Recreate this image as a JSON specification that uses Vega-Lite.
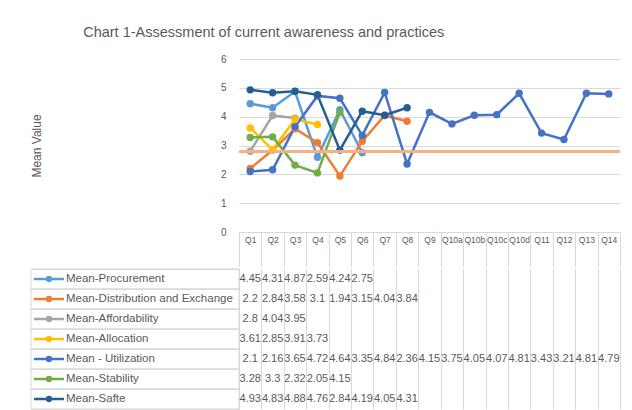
{
  "$schema": "https://vega.github.io/schema/vega-lite/v6.json",
  "background": "white",
  "padding": {"left": 30, "top": 24, "right": 12, "bottom": 2},
  "title": {"text": "Chart 1-Assessment of current awareness and practices", "fontSize": 14.5, "font": "Liberation Sans", "fontWeight": "normal", "color": "#595959", "anchor": "middle", "dx": -62, "offset": 14},
  "datasets": {
    "vals": [
      {"s": "Mean-Procurement", "q": "Q1", "v": 4.45},
      {"s": "Mean-Procurement", "q": "Q2", "v": 4.31},
      {"s": "Mean-Procurement", "q": "Q3", "v": 4.87},
      {"s": "Mean-Procurement", "q": "Q4", "v": 2.59},
      {"s": "Mean-Procurement", "q": "Q5", "v": 4.24},
      {"s": "Mean-Procurement", "q": "Q6", "v": 2.75},
      {"s": "Mean-Distribution and Exchange", "q": "Q1", "v": 2.2},
      {"s": "Mean-Distribution and Exchange", "q": "Q2", "v": 2.84},
      {"s": "Mean-Distribution and Exchange", "q": "Q3", "v": 3.58},
      {"s": "Mean-Distribution and Exchange", "q": "Q4", "v": 3.1},
      {"s": "Mean-Distribution and Exchange", "q": "Q5", "v": 1.94},
      {"s": "Mean-Distribution and Exchange", "q": "Q6", "v": 3.15},
      {"s": "Mean-Distribution and Exchange", "q": "Q7", "v": 4.04},
      {"s": "Mean-Distribution and Exchange", "q": "Q8", "v": 3.84},
      {"s": "Mean-Affordability", "q": "Q1", "v": 2.8},
      {"s": "Mean-Affordability", "q": "Q2", "v": 4.04},
      {"s": "Mean-Affordability", "q": "Q3", "v": 3.95},
      {"s": "Mean-Allocation", "q": "Q1", "v": 3.61},
      {"s": "Mean-Allocation", "q": "Q2", "v": 2.85},
      {"s": "Mean-Allocation", "q": "Q3", "v": 3.91},
      {"s": "Mean-Allocation", "q": "Q4", "v": 3.73},
      {"s": "Mean - Utilization", "q": "Q1", "v": 2.1},
      {"s": "Mean - Utilization", "q": "Q2", "v": 2.16},
      {"s": "Mean - Utilization", "q": "Q3", "v": 3.65},
      {"s": "Mean - Utilization", "q": "Q4", "v": 4.72},
      {"s": "Mean - Utilization", "q": "Q5", "v": 4.64},
      {"s": "Mean - Utilization", "q": "Q6", "v": 3.35},
      {"s": "Mean - Utilization", "q": "Q7", "v": 4.84},
      {"s": "Mean - Utilization", "q": "Q8", "v": 2.36},
      {"s": "Mean - Utilization", "q": "Q9", "v": 4.15},
      {"s": "Mean - Utilization", "q": "Q10a", "v": 3.75},
      {"s": "Mean - Utilization", "q": "Q10b", "v": 4.05},
      {"s": "Mean - Utilization", "q": "Q10c", "v": 4.07},
      {"s": "Mean - Utilization", "q": "Q10d", "v": 4.81},
      {"s": "Mean - Utilization", "q": "Q11", "v": 3.43},
      {"s": "Mean - Utilization", "q": "Q12", "v": 3.21},
      {"s": "Mean - Utilization", "q": "Q13", "v": 4.81},
      {"s": "Mean - Utilization", "q": "Q14", "v": 4.79},
      {"s": "Mean-Stability", "q": "Q1", "v": 3.28},
      {"s": "Mean-Stability", "q": "Q2", "v": 3.3},
      {"s": "Mean-Stability", "q": "Q3", "v": 2.32},
      {"s": "Mean-Stability", "q": "Q4", "v": 2.05},
      {"s": "Mean-Stability", "q": "Q5", "v": 4.15},
      {"s": "Mean-Safte", "q": "Q1", "v": 4.93},
      {"s": "Mean-Safte", "q": "Q2", "v": 4.83},
      {"s": "Mean-Safte", "q": "Q3", "v": 4.88},
      {"s": "Mean-Safte", "q": "Q4", "v": 4.76},
      {"s": "Mean-Safte", "q": "Q5", "v": 2.84},
      {"s": "Mean-Safte", "q": "Q6", "v": 4.19},
      {"s": "Mean-Safte", "q": "Q7", "v": 4.05},
      {"s": "Mean-Safte", "q": "Q8", "v": 4.31}
    ],
    "names": [
      {"s": "Mean-Procurement"},
      {"s": "Mean-Distribution and Exchange"},
      {"s": "Mean-Affordability"},
      {"s": "Mean-Allocation"},
      {"s": "Mean - Utilization"},
      {"s": "Mean-Stability"},
      {"s": "Mean-Safte"}
    ]
  },
  "spacing": 0,
  "vconcat": [
    {
      "width": 381, "height": 173,
      "data": {"name": "vals"},
      "layer": [
        {
          "mark": {"type": "line", "strokeWidth": 2.5},
          "encoding": {
            "x": {"field": "q", "type": "ordinal", "bandPosition": 0.5,
              "scale": {"type": "band", "paddingInner": 0, "paddingOuter": 0, "domain": ["Q1","Q2","Q3","Q4","Q5","Q6","Q7","Q8","Q9","Q10a","Q10b","Q10c","Q10d","Q11","Q12","Q13","Q14"]},
              "axis": {"title": null, "tickBand": "extent", "tickSize": 35, "tickColor": "#d9d9d9", "domain": false, "labelPadding": -32, "labelAngle": 0, "labelFontSize": 8.5, "labelColor": "#595959", "labelOverlap": false, "labelBaseline": "top"}},
            "y": {"field": "v", "type": "quantitative", "scale": {"domain": [0, 6]},
              "axis": {"title": "Mean Value", "values": [0,1,2,3,4,5,6], "tickCount": 7, "grid": true, "gridColor": "#d9d9d9", "domain": false, "ticks": false, "labelPadding": 13, "labelFontSize": 10, "labelColor": "#595959", "labelOverlap": false, "titleColor": "#595959", "titleFontSize": 12, "titleFontWeight": "normal", "titlePadding": 177}},
            "color": {"field": "s", "type": "nominal", "legend": null,
              "scale": {"domain": ["Mean-Procurement","Mean-Distribution and Exchange","Mean-Affordability","Mean-Allocation","Mean - Utilization","Mean-Stability","Mean-Safte"],
                "range": ["#5B9BD5","#ED7D31","#A5A5A5","#FFC000","#4472C4","#70AD47","#255E91"]}}
          }
        },
        {
          "mark": {"type": "point", "filled": true, "size": 55, "opacity": 1},
          "encoding": {
            "x": {"field": "q", "type": "ordinal", "bandPosition": 0.5},
            "y": {"field": "v", "type": "quantitative",
              "axis": {"title": "Mean Value", "values": [0,1,2,3,4,5,6], "tickCount": 7, "grid": true, "gridColor": "#d9d9d9", "domain": false, "ticks": false, "labelPadding": 13, "labelFontSize": 10, "labelColor": "#595959", "labelOverlap": false, "titleColor": "#595959", "titleFontSize": 12, "titleFontWeight": "normal", "titlePadding": 177}},
            "color": {"field": "s", "type": "nominal", "legend": null}
          }
        },
        {
          "mark": {"type": "rule", "color": "#F4B183", "strokeWidth": 2},
          "encoding": {"y": {"datum": 2.8,
              "axis": {"title": "Mean Value", "values": [0,1,2,3,4,5,6], "tickCount": 7, "grid": true, "gridColor": "#d9d9d9", "domain": false, "ticks": false, "labelPadding": 13, "labelFontSize": 10, "labelColor": "#595959", "labelOverlap": false, "titleColor": "#595959", "titleFontSize": 12, "titleFontWeight": "normal", "titlePadding": 177}}}
        }
      ]
    },
    {
      "width": 381, "height": 140,
      "encoding": {
        "y": {"field": "s", "type": "nominal",
          "scale": {"type": "band", "paddingInner": 0, "paddingOuter": 0, "domain": ["Mean-Procurement","Mean-Distribution and Exchange","Mean-Affordability","Mean-Allocation","Mean - Utilization","Mean-Stability","Mean-Safte"]},
          "axis": {"title": null, "labels": false, "ticks": false, "domain": false, "grid": true, "gridColor": "#d9d9d9", "tickBand": "extent"}}
      },
      "layer": [
        {
          "data": {"name": "names"},
          "mark": {"type": "rect", "filled": false, "stroke": "#d9d9d9", "strokeWidth": 1},
          "encoding": {
            "x": {"datum": 0, "type": "quantitative", "scale": {"domain": [0, 208], "range": [-208, 0]}, "axis": null},
            "x2": {"datum": 208}
          }
        },
        {
          "data": {"name": "names"},
          "mark": {"type": "rule", "strokeWidth": 2.5},
          "encoding": {
            "x": {"datum": 3, "type": "quantitative", "scale": {"domain": [0, 208], "range": [-208, 0]}, "axis": null},
            "x2": {"datum": 33},
            "color": {"field": "s", "type": "nominal", "legend": null,
              "scale": {"domain": ["Mean-Procurement","Mean-Distribution and Exchange","Mean-Affordability","Mean-Allocation","Mean - Utilization","Mean-Stability","Mean-Safte"],
                "range": ["#5B9BD5","#ED7D31","#A5A5A5","#FFC000","#4472C4","#70AD47","#255E91"]}}
          }
        },
        {
          "data": {"name": "names"},
          "mark": {"type": "point", "filled": true, "size": 40, "opacity": 1},
          "encoding": {
            "x": {"datum": 18, "type": "quantitative", "scale": {"domain": [0, 208], "range": [-208, 0]}, "axis": null},
            "color": {"field": "s", "type": "nominal", "legend": null}
          }
        },
        {
          "data": {"name": "names"},
          "mark": {"type": "text", "align": "left", "fontSize": 11.5, "color": "#595959"},
          "encoding": {
            "x": {"datum": 35, "type": "quantitative", "scale": {"domain": [0, 208], "range": [-208, 0]}, "axis": null},
            "text": {"field": "s", "type": "nominal"}
          }
        },
        {
          "data": {"name": "vals"},
          "mark": {"type": "text", "fontSize": 11, "color": "#595959"},
          "encoding": {
            "x": {"field": "q", "type": "ordinal",
              "scale": {"type": "band", "paddingInner": 0, "paddingOuter": 0, "domain": ["Q1","Q2","Q3","Q4","Q5","Q6","Q7","Q8","Q9","Q10a","Q10b","Q10c","Q10d","Q11","Q12","Q13","Q14"]},
              "axis": {"title": null, "labels": false, "ticks": false, "domain": false, "grid": true, "gridColor": "#d9d9d9", "tickBand": "extent"}},
            "text": {"field": "v", "type": "nominal"}
          }
        }
      ],
      "resolve": {"scale": {"x": "independent"}, "axis": {"x": "independent"}}
    }
  ],
  "config": {
    "view": {"stroke": null},
    "font": "Liberation Sans",
    "axis": {"labelFont": "Liberation Sans", "titleFont": "Liberation Sans"}
  }
}
